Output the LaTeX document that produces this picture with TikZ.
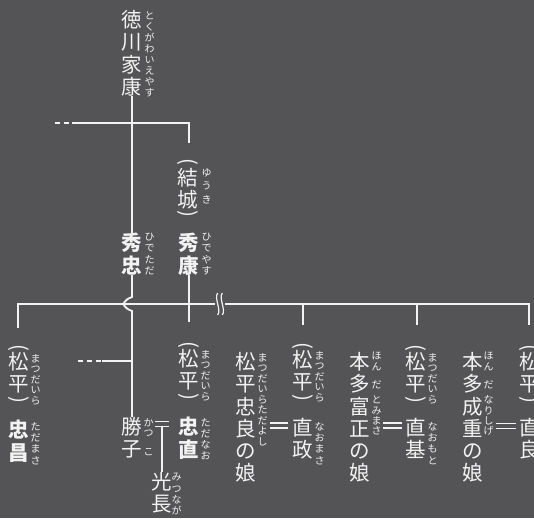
\documentclass[tikz,border=0pt]{standalone}
\usepackage{fontspec}
\usepackage{tikz}
\usetikzlibrary{positioning, calc}
\newfontfamily\cjk{Noto Sans CJK JP}
\definecolor{bgc}{HTML}{545456}
\definecolor{ink}{HTML}{F2F2F2}
\newcommand{\Kanji}{\cjk\fontsize{20.5}{22.3}\selectfont}
\tikzset{
    wed/.pic = {
    \draw[link] (-#1,-2.5) -- (#1,-2.5);
    \draw[link] (-#1,2.5) -- (#1,2.5);
    },
    link/.style={draw=ink, line width=1.8pt},
    kanji/.style={align=center, inner sep=0pt, text=ink, font=\Kanji},
    lord/.style={kanji, font=\Kanji\bfseries},
    kana/.style={align=center, inner sep=0pt, text=ink, font=\cjk\fontsize{10}{#1}\selectfont},
    kana/.default=10.5,
    paren/.style={kanji, rotate=-90},
}

\begin{document}
\begin{tikzpicture}[x=1pt, y=-1pt]
    \fill[bgc] (0,0) rectangle (534,518);
    \useasboundingbox (0,0) rectangle (534,518);

    % Ieyasu and his sons
    \node[kanji, anchor=north] (ieyasu) at (132,10) {徳\\川\\家\\康};
    \node[kana=11, anchor=north west] (ieyasuK) at ([xshift=2pt, yshift=-2pt]ieyasu.north east) {と\\く\\が\\わ\\い\\え\\や\\す};

    \node[paren] (yukiO) at (188,162) {(};
    \node[kanji, anchor=north] (yuki) at (188,168) {結\\城};
    \node[paren] (yukiC) at (188,214) {)};
    \node[kana=13.5, anchor=north west] (yukiK) at ([xshift=3pt]yuki.north east) {ゆ\\う\\き};

    \node[lord, anchor=north] (hidetada) at (132,233) {秀\\忠};
    \node[kana=11.3, anchor=north west] (hidetadaK) at ([xshift=2pt]hidetada.north east) {ひ\\で\\た\\だ};
    \node[lord, anchor=north] (hideyasu) at (189,233) {秀\\康};
    \node[kana=11.3, anchor=north west] (hideyasuK) at ([xshift=2pt]hideyasu.north east) {ひ\\で\\や\\す};

    % next generation
    \node[kanji, anchor=north] (matsuA) at (19,352) {松\\平};
    \node[paren] (matsuAO) at ([yshift=4pt]matsuA.north) {(};
    \node[paren] (matsuAC) at ([yshift=-6pt]matsuA.south) {)};
    \node[kana, anchor=north west] (matsuAK) at ([xshift=1pt, yshift=-2pt]matsuA.north east) {ま\\つ\\だ\\い\\ら};
    \node[lord, anchor=north] (tadamasa) at (19,420) {忠\\昌};
    \node[kana=11.3, anchor=north west] (tadamasaK) at ([xshift=1pt, yshift=-2pt]tadamasa.north east) {た\\だ\\ま\\さ};

    \node[kanji, anchor=north] (katsuko) at (132,417) {勝\\子};
    \node[kana=10, anchor=north west] (katsukoK) at ([xshift=1pt, yshift=-1pt]katsuko.north east) {か\\つ\\[9pt]こ};

    \node[kanji, anchor=north] (matsuC) at (189,349) {松\\平};
    \node[paren] (matsuCO) at ([yshift=4pt]matsuC.north) {(};
    \node[paren] (matsuCC) at ([yshift=-6pt]matsuC.south) {)};
    \node[kana, anchor=north west] (matsuCK) at ([xshift=1pt, yshift=-1pt]matsuC.north east) {ま\\つ\\だ\\い\\ら};
    \node[lord, anchor=north] (tadanao) at (189,417) {忠\\直};
    \node[kana=11, anchor=north west] (tadanaoK) at ([xshift=1pt, yshift=-1pt]tadanao.north east) {た\\だ\\な\\お};

    \node[kanji, anchor=north] (mitsunaga) at (162,472) {光\\長};
    \node[kana=11.3, anchor=north west] (mitsunagaK) at ([xshift=-1pt, yshift=-1pt]mitsunaga.north east) {み\\つ\\な\\が};

    \node[kanji, anchor=north] (tadayoshiD) at (246,352) {松\\平\\忠\\良\\の\\娘};
    \node[kana, anchor=north west] (tadayoshiK) at ([xshift=1pt, yshift=-1pt]tadayoshiD.north east) {ま\\つ\\だ\\い\\ら\\た\\だ\\よ\\し};

    \node[kanji, anchor=north] (matsuE) at (303,350) {松\\平};
    \node[paren] (matsuEO) at ([yshift=4pt]matsuE.north) {(};
    \node[paren] (matsuEC) at ([yshift=-6pt]matsuE.south) {)};
    \node[kana, anchor=north west] (matsuEK) at ([xshift=1pt, yshift=-1pt]matsuE.north east) {ま\\つ\\だ\\い\\ら};
    \node[kanji, anchor=north] (naomasa) at (303,418) {直\\政};
    \node[kana=11.3, anchor=north west] (naomasaK) at ([xshift=1pt, yshift=-4pt]naomasa.north east) {な\\お\\ま\\さ};

    \node[kanji, anchor=north] (tomimasaD) at (360,352) {本\\多\\富\\正\\の\\娘};
    \node[kana=10.3, anchor=north west] (tomimasaK) at ([xshift=1pt]tomimasaD.north east) {ほ\\ん\\[8pt]だ\\[5pt]と\\み\\ま\\さ};

    \node[kanji, anchor=north] (matsuG) at (416,352) {松\\平};
    \node[paren] (matsuGO) at ([yshift=4pt]matsuG.north) {(};
    \node[paren] (matsuGC) at ([yshift=-6pt]matsuG.south) {)};
    \node[kana, anchor=north west] (matsuGK) at ([xshift=1pt, yshift=-1pt]matsuG.north east) {ま\\つ\\だ\\い\\ら};
    \node[kanji, anchor=north] (naomoto) at (416,418) {直\\基};
    \node[kana=11.3, anchor=north west] (naomotoK) at ([xshift=1pt, yshift=-4pt]naomoto.north east) {な\\お\\も\\と};

    \node[kanji, anchor=north] (narishigeD) at (473,352) {本\\多\\成\\重\\の\\娘};
    \node[kana=10.3, anchor=north west] (narishigeK) at ([xshift=0pt]narishigeD.north east) {ほ\\ん\\[8pt]だ\\[5pt]な\\り\\し\\げ};

    \node[kanji, anchor=north] (matsuI) at (530,352) {松\\平};
    \node[paren] (matsuIO) at ([yshift=4pt]matsuI.north) {(};
    \node[paren] (matsuIC) at ([yshift=-6pt]matsuI.south) {)};
    \node[kanji, anchor=north] (naoyoshi) at (530,418) {直\\良};

    % marriages
    \coordinate (wedK) at (162,424);
    \pic at (wedK) {wed=7};
    \pic at (279,425.5) {wed=9};
    \pic at (392.5,425.5) {wed=9.5};
    \pic at (506,426) {wed=10};
    \draw[link] ([yshift=-2.5pt]wedK) -- (wedK |- mitsunaga.north);

    % lines of descent
    \coordinate (sibT) at (55,123);
    \coordinate (yukiT) at (189,143);
    \draw[link, dash pattern=on 5pt off 3.5pt] (sibT) -- ++(17,0);
    \draw[link] ([xshift=17pt]sibT) -| (yukiT);
    \draw[link] (ieyasu) -- (hidetada);
    \draw[link] (hidetada) -- (132,297) .. controls (127,299) .. (123,304)
        .. controls (127,309) .. (132,311) -- (katsuko);
    \coordinate (sibB) at (78,361);
    \draw[link, dash pattern=on 5pt off 4pt] (sibB) -- ++(24,0);
    \draw[link] ([xshift=24pt]sibB) -- (sibB -| katsuko);
    \coordinate (tadanaoT) at (189,322);
    \draw[link] (hideyasu) -- (tadanaoT);

    \coordinate (brk) at (220,304);
    \coordinate (dA) at (18,328);
    \coordinate (dE) at (303,325);
    \coordinate (dG) at (417,325);
    \coordinate (dI) at (529,325);
    \draw[link] (dA) |- ([xshift=-5pt]brk);
    \draw[link] ([xshift=5pt]brk) -| (dI);
    \draw[link] (dE |- brk) -- (dE);
    \draw[link] (dG |- brk) -- (dG);
    \draw[link, line width=1.2pt] ([xshift=-2.3pt, yshift=11pt]brk) .. controls +(-4,5) and +(4,-5) .. ([xshift=-2.3pt, yshift=-11pt]brk);
    \draw[link, line width=1.2pt] ([xshift=2.3pt, yshift=11pt]brk) .. controls +(-4,5) and +(4,-5) .. ([xshift=2.3pt, yshift=-11pt]brk);
\end{tikzpicture}
\end{document}
